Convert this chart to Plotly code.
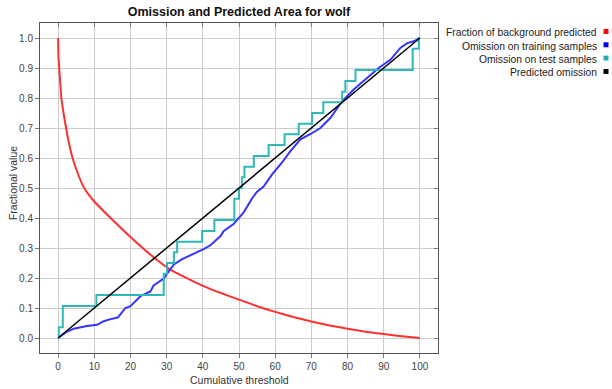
import plotly.graph_objects as go

# ---- data ----
bg_x = [0, 0.1, 0.3, 0.6, 0.9, 1.5, 2.2, 3.0, 4.0, 5.4, 7.2, 10, 14.5, 20, 26.4, 31, 35, 40, 45, 50,
        55, 60, 65, 70, 75, 80, 85, 90, 95, 100]
bg_y = [1.0, 0.94, 0.9, 0.85, 0.8, 0.75, 0.7, 0.65, 0.6, 0.55, 0.5, 0.455, 0.40, 0.337, 0.269, 0.228,
        0.203, 0.174, 0.150, 0.128, 0.106, 0.087, 0.070, 0.055, 0.042, 0.031, 0.021, 0.013, 0.006, 0.0]

train_x = [0, 2.0, 4.3, 6.4, 8.0, 10.8, 12.6, 14.5, 16.5, 18.6, 20.0, 22.8, 25.5, 26.4, 29.2, 30.6, 32.0,
           34.3, 36.0, 38.4, 40.2, 42.1, 44.9, 45.8, 48.5, 51.3, 53.6, 55.0, 56.8, 59.2, 61.9, 64.2, 67.0,
           69.8, 72.5, 75.3, 78.5, 81.7, 85.4, 88.6, 91.9, 94.6, 96.5, 98.3, 100]
train_y = [0, 0.018, 0.031, 0.036, 0.040, 0.044, 0.056, 0.063, 0.068, 0.100, 0.106, 0.140, 0.155, 0.175,
           0.198, 0.222, 0.245, 0.263, 0.272, 0.286, 0.296, 0.309, 0.340, 0.357, 0.380, 0.419, 0.465, 0.488,
           0.505, 0.546, 0.585, 0.623, 0.662, 0.680, 0.700, 0.734, 0.789, 0.828, 0.867, 0.900, 0.928, 0.967,
           0.983, 0.989, 1.0]

test_x = [0, 0.2, 1.3, 10.6, 29.2, 30.1, 32.0, 32.9, 39.8, 43.2, 48.7, 50.0, 50.8, 51.5, 54.1, 58.2, 62.6,
          66.5, 70.2, 73.3, 78.5, 79.4, 82.2, 98.0, 99.7, 100]
test_y = [0, 0.036, 0.107, 0.143, 0.214, 0.25, 0.286, 0.321, 0.357, 0.393, 0.464, 0.5, 0.536, 0.571, 0.607,
          0.643, 0.679, 0.714, 0.75, 0.786, 0.821, 0.857, 0.893, 0.964, 1.0, 1.0]

pred_x = [0, 100]
pred_y = [0, 1]

x_ticks = [0, 10, 20, 30, 40, 50, 60, 70, 80, 90, 100]
y_ticks = [0.0, 0.1, 0.2, 0.3, 0.4, 0.5, 0.6, 0.7, 0.8, 0.9, 1.0]

legend_names = ["Fraction of background predicted", "Omission on training samples",
                "Omission on test samples", "Predicted omission"]
colors = ["#ff3030", "#3434ff", "#2fb8b8", "#000000"]
square_colors = ["#ff0000", "#0000ff", "#20b0b0", "#000000"]

FONT = "Liberation Sans, Arial, sans-serif"

fig = go.Figure()
fig.add_trace(go.Scatter(x=bg_x, y=bg_y, mode="lines",
                         line=dict(color=colors[0], width=2, shape="spline", smoothing=0.5)))
fig.add_trace(go.Scatter(x=train_x, y=train_y, mode="lines", line=dict(color=colors[1], width=2)))
fig.add_trace(go.Scatter(x=test_x, y=test_y, mode="lines", line=dict(color=colors[2], width=2, shape="hv")))
fig.add_trace(go.Scatter(x=pred_x, y=pred_y, mode="lines", line=dict(color=colors[3], width=1.5)))

axis_common = dict(showline=True, linecolor="#555555", linewidth=1,
                   gridcolor="#cccccc", gridwidth=1, zeroline=False,
                   tickcolor="#777777", ticklen=4, tickwidth=1,
                   tickfont=dict(family=FONT, size=10, color="#444444"))

fig.update_layout(
    width=612, height=389,
    margin=dict(l=40, r=174, t=23, b=36, autoexpand=False),
    paper_bgcolor="white", plot_bgcolor="white",
    showlegend=False,
    title=dict(text="<b>Omission and Predicted Area for wolf</b>", x=(40 + 438) / 2 / 612, xanchor="center",
               y=1 - 12 / 389, yanchor="middle", font=dict(family=FONT, size=12.5, color="#111111")),
    xaxis=dict(range=[-5, 105], tickvals=x_ticks, ticktext=[str(v) for v in x_ticks],
               ticks="outside", mirror=True, **axis_common),
    yaxis=dict(range=[-0.05, 1.05], tickvals=y_ticks, ticktext=[f"{v:.1f}" for v in y_ticks],
               ticks="outside", mirror=True, **axis_common),
    xaxis2=dict(range=[-5, 105], overlaying="x", side="top", tickvals=x_ticks, ticks="inside",
                ticklen=4, tickcolor="#777777", showticklabels=False, showgrid=False, zeroline=False,
                showline=False),
    yaxis2=dict(range=[-0.05, 1.05], overlaying="y", side="right", tickvals=y_ticks, ticks="inside",
                ticklen=4, tickcolor="#777777", showticklabels=False, showgrid=False, zeroline=False,
                showline=False),
)

# invisible trace to activate the mirrored tick axes
fig.add_trace(go.Scatter(x=[None], y=[None], xaxis="x2", yaxis="y2", showlegend=False, hoverinfo="skip"))

# axis titles
fig.add_annotation(text="Cumulative threshold", xref="paper", yref="paper", x=0.5, y=-(380 - 353) / 330.3,
                   xanchor="center", yanchor="middle", showarrow=False,
                   font=dict(family=FONT, size=10.5, color="#333333"))
fig.add_annotation(text="Fractional value", xref="paper", yref="paper", x=-(40 - 13) / 398, y=0.515,
                   xanchor="center", yanchor="middle", textangle=-90, showarrow=False,
                   font=dict(family=FONT, size=10.5, color="#333333"))

# legend (text right-aligned, square at right)
leg_py = [32.7, 46.0, 59.3, 72.7]
for name, sc, py in zip(legend_names, square_colors, leg_py):
    yp = (353 - py) / 330.3
    fig.add_annotation(text=name, xref="paper", yref="paper", x=(599 - 40) / 398, y=yp,
                       xanchor="right", yanchor="middle", showarrow=False,
                       font=dict(family=FONT, size=10.3, color="#222222"))
    fig.add_shape(type="rect", xref="paper", yref="paper",
                  x0=(603.5 - 40) / 398, x1=(608.5 - 40) / 398,
                  y0=(353 - (py - 1.5)) / 330.3 - 0.0075, y1=(353 - (py - 1.5)) / 330.3 + 0.0075,
                  fillcolor=sc, line=dict(width=0))

fig.write_html("out.html")
